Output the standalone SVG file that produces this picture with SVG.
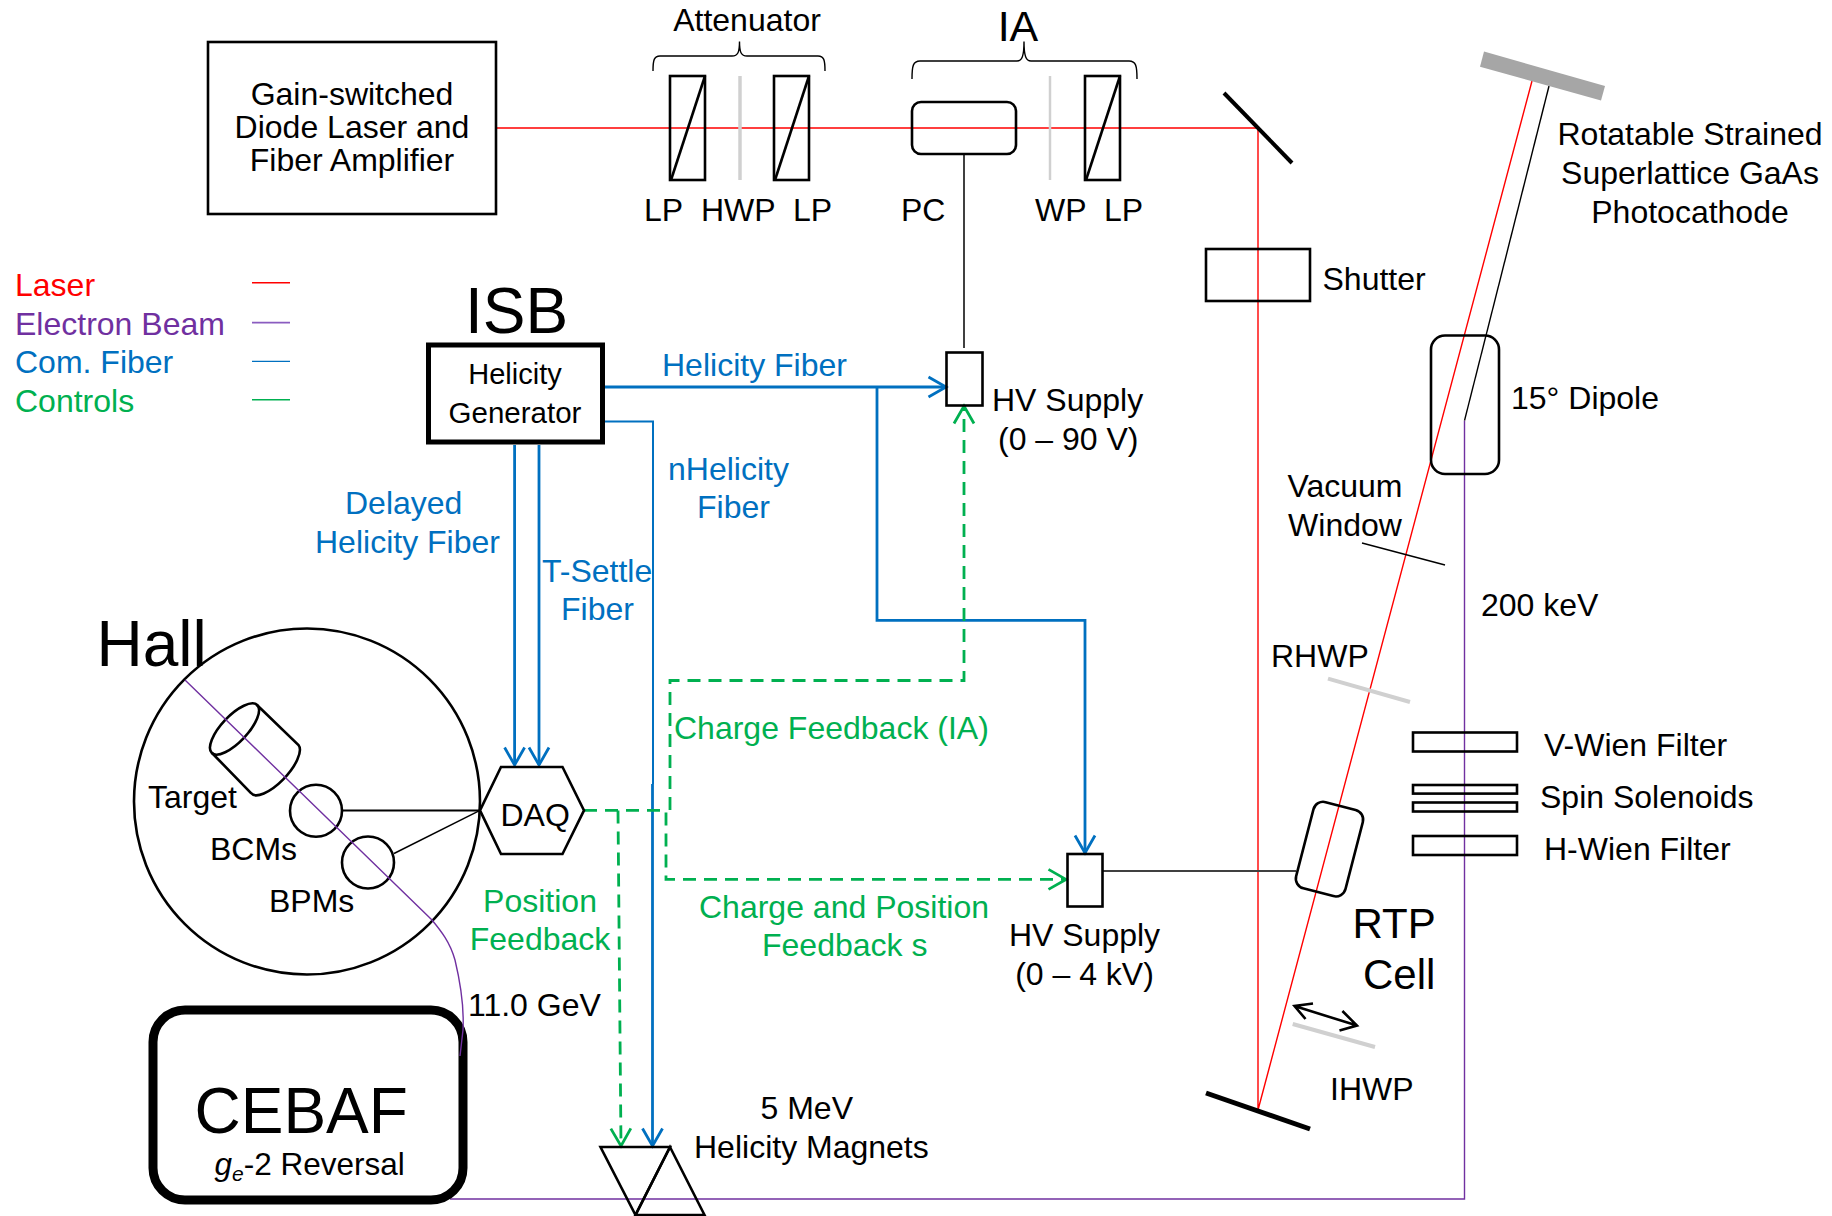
<svg xmlns="http://www.w3.org/2000/svg" width="1832" height="1216" viewBox="0 0 1832 1216">
<style>
text{font-family:"Liberation Sans",Arial,sans-serif;font-size:32px;fill:#000}
.m{text-anchor:middle}
.big{font-size:64px}
.mid{font-size:42px}
.r{fill:#f00}.p{fill:#7030a0}.b{fill:#0070c0}.g{fill:#00b050}
.s{fill:none;stroke:#000;stroke-width:2.6}
.t{fill:none;stroke:#000;stroke-width:1.4}
.gray{fill:none;stroke:#d0d0d0}
.laser{fill:none;stroke:#f00;stroke-width:1.4}
.beam{fill:none;stroke:#7030a0;stroke-width:1.4}
.fiber{fill:none;stroke:#0070c0;stroke-width:2.8}
.ctl{fill:none;stroke:#00b050;stroke-width:2.8;stroke-dasharray:13 8}
</style>
<defs>
<marker id="ab" markerUnits="userSpaceOnUse" markerWidth="24" markerHeight="28" viewBox="-21 -14 24 28" refX="0" refY="0" orient="auto"><path d="M-17.5,-10L0,0L-17.5,10" fill="none" stroke="#0070c0" stroke-width="2.8"/></marker>
<marker id="ag" markerUnits="userSpaceOnUse" markerWidth="24" markerHeight="28" viewBox="-21 -14 24 28" refX="0" refY="0" orient="auto"><path d="M-17.5,-10L0,0L-17.5,10" fill="none" stroke="#00b050" stroke-width="2.8"/></marker>
</defs>

<g id="connectors">
<path class="laser" d="M496,128H1258V1110L1532,81"/>
<path class="t" d="M1549,86L1464.5,420.7"/>
<path class="beam" d="M1464.5,420.7V1199H450"/>
<path class="t" d="M964,154V348" style="stroke:#404040;stroke-width:2"/>
<path class="t" d="M1102,871H1296" style="stroke:#404040;stroke-width:2"/>
<path class="s" d="M342,810.4H480" style="stroke-width:2"/>
<path class="t" d="M394,853.5L480,810.4"/>
<path class="fiber" d="M604,387H946" marker-end="url(#ab)"/>
<path class="fiber" d="M877,387V620.4H1085V853" marker-end="url(#ab)"/>
<path class="fiber" style="stroke-width:2" d="M604,421.5H653V784"/>
<path class="fiber" d="M652.5,784V1146" marker-end="url(#ab)"/>
<path class="fiber" d="M514.6,445V765" marker-end="url(#ab)"/>
<path class="fiber" d="M539,445V765" marker-end="url(#ab)"/>
<path class="ctl" d="M584,810.4H666V879.4H1066" marker-end="url(#ag)"/>
<path class="ctl" d="M618,810.4L621,1146" marker-end="url(#ag)"/>
<path class="ctl" d="M670,810V680.5H964V406" marker-end="url(#ag)"/>
</g>

<g id="legend">
<text class="r" x="15" y="296">Laser</text>
<text class="p" x="15" y="334.6">Electron Beam</text>
<text class="b" x="15" y="373">Com. Fiber</text>
<text class="g" x="15" y="412">Controls</text>
<path class="laser" d="M252,282.7H290"/>
<path class="beam" d="M252,322.6H290" style="stroke:#8a5cc0;stroke-width:1.8"/>
<path class="fiber" style="stroke-width:1.4" d="M252,361.4H290"/>
<path class="ctl" style="stroke-width:1.4;stroke-dasharray:none" d="M252,399.8H290"/>
</g>

<g id="laser-source">
<rect class="s" x="208" y="42" width="288" height="172"/>
<text class="m" x="352" y="105">Gain-switched</text>
<text class="m" x="352" y="138">Diode Laser and</text>
<text class="m" x="352" y="171">Fiber Amplifier</text>
</g>

<g id="attenuator">
<text class="m" x="747" y="31">Attenuator</text>
<path class="t" d="M653,71C653,60 654,56 660,56H732C738,56 739.5,52 739.5,41.5C739.5,52 741,56 747,56H818C824,56 825,60 825,71"/>
<rect class="s" x="670" y="76" width="35" height="104"/>
<path class="s" d="M671,180L705,76"/>
<path class="gray" style="stroke-width:3.5" d="M740,76V180"/>
<rect class="s" x="774" y="76" width="35" height="104"/>
<path class="s" d="M775,180L809,76"/>
<text x="644" y="220.5">LP</text>
<text x="701" y="220.5">HWP</text>
<text x="793" y="220.5">LP</text>
</g>

<g id="ia">
<text class="m" x="1018" y="40.5" style="font-size:43px">IA</text>
<path class="t" d="M912,79C912,66 913,61 920,61H1017C1022,61 1024,56 1024,41.5C1024,56 1026,61 1031,61H1129C1136,61 1137,66 1137,79"/>
<rect class="s" x="912" y="102" width="104" height="52" rx="9"/>
<path class="gray" style="stroke-width:2.5" d="M1050,76V180"/>
<rect class="s" x="1085" y="76" width="35" height="104"/>
<path class="s" d="M1086,180L1120,76"/>
<text x="901" y="220.5">PC</text>
<text x="1035" y="220.5">WP</text>
<text x="1104" y="220.5">LP</text>
</g>

<g id="mirror-top"><path class="s" style="stroke-width:4" d="M1224,93L1292,163"/></g>
<g id="mirror-bottom"><path class="s" style="stroke-width:5" d="M1206,1093L1310,1129"/></g>

<g id="shutter">
<rect class="s" x="1206" y="249" width="104" height="52"/>
<text x="1322.5" y="290">Shutter</text>
</g>

<g id="photocathode">
<polygon points="1484,51.6 1605,86 1601,100.4 1480,66.7" fill="#a6a6a6"/>
<text class="m" x="1690" y="145">Rotatable Strained</text>
<text class="m" x="1690" y="184">Superlattice GaAs</text>
<text class="m" x="1690" y="222.5">Photocathode</text>
</g>

<g id="dipole">
<rect class="s" x="1431" y="335.5" width="68" height="138.5" rx="14"/>
<text x="1511" y="409">15° Dipole</text>
</g>

<g id="vacuum-window">
<text class="m" x="1345" y="497">Vacuum</text>
<text class="m" x="1345" y="536">Window</text>
<path class="t" d="M1362,543L1445,565"/>
</g>

<text x="1481" y="616">200 keV</text>

<g id="rhwp">
<text x="1271" y="667">RHWP</text>
<path class="gray" style="stroke-width:4" d="M1328,678.6L1410,702"/>
</g>

<g id="v-wien">
<rect class="s" x="1413" y="732.5" width="104" height="19"/>
<text x="1544" y="756">V-Wien Filter</text>
</g>
<g id="spin-solenoids">
<rect class="s" x="1413" y="785" width="104" height="8.6"/>
<rect class="s" x="1413" y="802.5" width="104" height="9"/>
<text x="1540" y="808">Spin Solenoids</text>
</g>
<g id="h-wien">
<rect class="s" x="1413" y="836" width="104" height="19"/>
<text x="1544" y="860">H-Wien Filter</text>
</g>

<g id="rtp-cell">
<rect class="s" x="1304" y="804.5" width="51" height="89" rx="10" transform="rotate(14.5 1329 849)"/>
<text class="mid" x="1352.5" y="938">RTP</text>
<text class="mid" x="1363" y="989">Cell</text>
</g>

<g id="ihwp">
<path class="s" d="M1294.5,1006L1357,1025.6M1313,1003.5L1294.5,1006L1305.5,1019M1342.4,1011L1357,1025.6L1339.5,1030.6"/>
<path class="gray" style="stroke-width:4" d="M1292.7,1024L1375,1047"/>
<text x="1330" y="1100">IHWP</text>
</g>

<g id="hv-supply-90">
<rect class="s" x="946.5" y="352.5" width="36" height="53"/>
<text x="992" y="411">HV Supply</text>
<text x="998" y="449.5">(0 – 90 V)</text>
</g>

<g id="hv-supply-4k">
<rect class="s" x="1067.5" y="854" width="35" height="52.5"/>
<text class="m" x="1084.5" y="946">HV Supply</text>
<text class="m" x="1084.5" y="985">(0 – 4 kV)</text>
</g>

<g id="isb">
<text class="big" x="465" y="332.7">ISB</text>
<rect class="s" style="stroke-width:5" x="428.5" y="345" width="174" height="97"/>
<text class="m" x="515" y="384" style="font-size:29px">Helicity</text>
<text class="m" x="515" y="422.6" style="font-size:29.5px">Generator</text>
</g>

<g id="fiber-labels">
<text class="b" x="662" y="376">Helicity Fiber</text>
<text class="b" x="668" y="480">nHelicity</text>
<text class="b" x="697" y="518">Fiber</text>
<text class="b" x="345" y="514">Delayed</text>
<text class="b" x="315" y="552.5">Helicity Fiber</text>
<text class="b" x="542" y="581.6">T-Settle</text>
<text class="b" x="561" y="619.6">Fiber</text>
</g>

<g id="control-labels">
<text class="g" x="674" y="738.7">Charge Feedback (IA)</text>
<text class="g" x="699" y="918">Charge and Position</text>
<text class="g" x="762" y="955.5">Feedback s</text>
<text class="g m" x="540" y="912">Position</text>
<text class="g m" x="540" y="950">Feedback</text>
</g>

<g id="hall">
<circle class="s" cx="307" cy="801.5" r="173"/>
<text class="big" x="96.5" y="666">Hall</text>
<ellipse class="s" cx="234.5" cy="729" rx="33" ry="13" transform="rotate(-46.7 234.5 729)"/>
<path class="s" d="M257,705L298.5,745A33,13 -46.7 0 1 251,793L212,753"/>
<text x="148" y="807.7">Target</text>
<circle class="s" cx="316" cy="810.7" r="26"/>
<text x="210" y="859.5">BCMs</text>
<circle class="s" cx="368" cy="862.5" r="26"/>
<text x="269" y="911.5">BPMs</text>
</g>

<g id="daq">
<polygon class="s" points="480,810.4 501,767 562.5,767 584,810.4 562.5,854 501,854"/>
<text x="500.5" y="826">DAQ</text>
</g>

<text x="468" y="1016">11.0 GeV</text>

<g id="cebaf">
<rect class="s" style="stroke-width:9" x="153" y="1010" width="310" height="190" rx="32"/>
<text class="big" x="194.5" y="1132.6">CEBAF</text>
<text x="214.5" y="1175" style="font-size:31.5px"><tspan font-style="italic">g</tspan><tspan font-style="italic" font-size="21" dy="6">e</tspan><tspan dy="-6">-2 Reversal</tspan></text>
</g>

<g id="beam-hall">
<path class="beam" d="M185,680L432,920C441,931 450,942 455,960C461,985 464,1010 463,1030L460,1056"/>
</g>

<g id="helicity-magnets">
<polygon class="s" points="600.5,1147 670,1147 635.5,1215"/>
<polygon class="s" points="670,1147 704.5,1215 635.5,1215"/>
<text x="760.5" y="1118.7">5 MeV</text>
<text x="694" y="1158">Helicity Magnets</text>
</g>
</svg>
